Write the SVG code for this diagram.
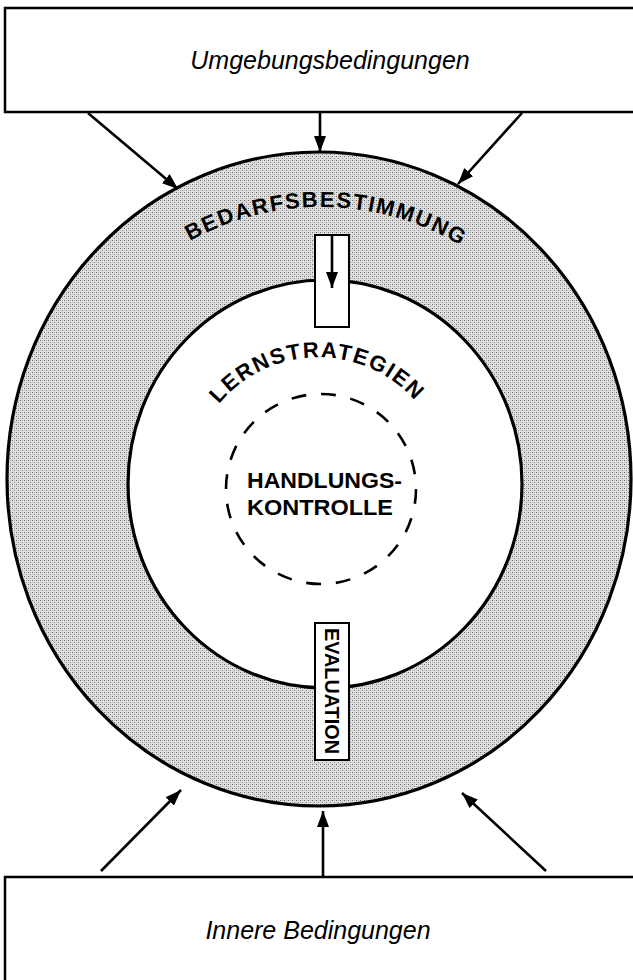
<svg xmlns="http://www.w3.org/2000/svg" width="633" height="980" viewBox="0 0 633 980">
<style>
.box{fill:#fff;stroke:#000;stroke-width:2.5}
.title{font-family:"Liberation Sans",Arial,sans-serif;font-style:italic;font-size:25px;fill:#000}
.caps{font-family:"Liberation Sans",Arial,sans-serif;font-weight:bold;fill:#000}
.ring{stroke:#000;stroke-width:3.2;fill:none}
.conn line{stroke:#000;stroke-width:2.6}
</style>
<defs>
<pattern id="dots" width="4" height="4" patternUnits="userSpaceOnUse">
<rect width="4" height="4" fill="#e0e0e0"/>
<rect x="0" y="0" width="1" height="1" fill="#666"/>
<rect x="2" y="2" width="1" height="1" fill="#888"/>
<rect x="2" y="0" width="1" height="1" fill="#b5b5b5"/>
<rect x="0" y="2" width="1" height="1" fill="#c5c5c5"/>
</pattern>
<marker id="ah" markerWidth="16" markerHeight="12" refX="16" refY="6" orient="auto" markerUnits="userSpaceOnUse">
<path d="M0,0 L16,6 L0,12 z" fill="#000"/>
</marker>
<path id="arcOuter" d="M 190 241 A 271 271 0 0 1 463 247" fill="none"/>
<path id="arcInner" d="M 219 404 A 129 129 0 0 1 416 402" fill="none"/>
</defs>

<g id="umgebung">
<rect class="box" x="5" y="8" width="650" height="104"/>
<text class="title" x="330" y="69" text-anchor="middle">Umgebungsbedingungen</text>
</g>

<g id="bedarfsbestimmung">
<path d="M 7 479 A 312 327 0 1 0 631 479 A 312 327 0 1 0 7 479 Z M 128 484 A 197 204 0 1 0 522 484 A 197 204 0 1 0 128 484 Z" fill="url(#dots)" fill-rule="evenodd"/>
<ellipse class="ring" cx="319" cy="479" rx="312" ry="327"/>
<text class="caps" font-size="22"><textPath href="#arcOuter" textLength="283" lengthAdjust="spacing">BEDARFSBESTIMMUNG</textPath></text>
</g>

<g id="lernstrategien">
<ellipse cx="325" cy="484" rx="197" ry="204" fill="#fff" stroke="#000" stroke-width="3.2"/>
<text class="caps" font-size="22"><textPath href="#arcInner" textLength="222" lengthAdjust="spacing">LERNSTRATEGIEN</textPath></text>
</g>

<g id="handlungskontrolle">
<circle cx="321" cy="489" r="95" fill="none" stroke="#000" stroke-width="2.6" pathLength="200" stroke-dasharray="5 5"/>
<text class="caps" font-size="22.5" x="247" y="488" textLength="155" lengthAdjust="spacingAndGlyphs">HANDLUNGS-</text>
<text class="caps" font-size="22.5" x="247" y="515" textLength="146" lengthAdjust="spacingAndGlyphs">KONTROLLE</text>
</g>

<g id="slot">
<rect x="315" y="235" width="34" height="92" fill="#fff" stroke="#000" stroke-width="2"/>
</g>

<g id="evaluation">
<rect x="315" y="623" width="34" height="137" fill="#fff" stroke="#000" stroke-width="2"/>
<text class="caps" font-size="20" transform="translate(332,691) rotate(90)" x="0" y="7.5" text-anchor="middle" textLength="126" lengthAdjust="spacingAndGlyphs">EVALUATION</text>
</g>

<g id="innere">
<rect class="box" x="5" y="877" width="650" height="130"/>
<text class="title" x="318" y="939" text-anchor="middle">Innere Bedingungen</text>
</g>

<g id="connectors" class="conn">
<line x1="88" y1="113" x2="178" y2="189" marker-end="url(#ah)"/>
<line x1="320" y1="113" x2="320" y2="152" marker-end="url(#ah)"/>
<line x1="522" y1="113" x2="458" y2="184" marker-end="url(#ah)"/>
<line x1="332" y1="236" x2="332" y2="288" marker-end="url(#ah)"/>
<line x1="101" y1="871" x2="181" y2="790" marker-end="url(#ah)"/>
<line x1="323" y1="877" x2="323" y2="811" marker-end="url(#ah)"/>
<line x1="546" y1="871" x2="462" y2="793" marker-end="url(#ah)"/>
</g>
</svg>
